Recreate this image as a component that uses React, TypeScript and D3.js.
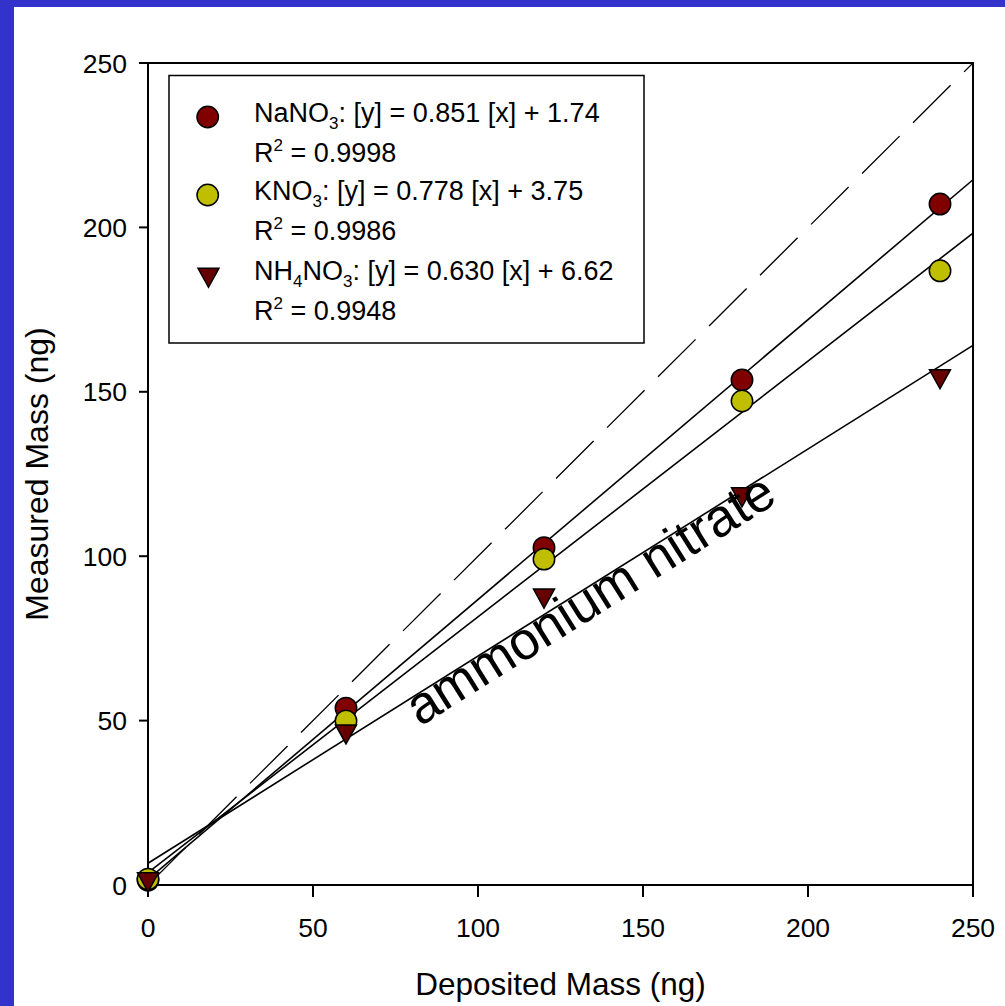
import React from "react";
import * as d3 from "d3";

const xValues = [0, 60, 120, 180, 240];
const nano3 = [1.5, 53.8, 102.6, 153.6, 207.1];
const kno3 = [1.8, 49.9, 99.1, 147.2, 186.8];
const nh4no3 = [0.8, 45.8, 87.1, 117.9, 153.8];
const fits = [
  { slope: 0.851, intercept: 1.74 },
  { slope: 0.778, intercept: 3.75 },
  { slope: 0.63, intercept: 6.62 },
];
const xTicks = [0, 50, 100, 150, 200, 250];
const yTicks = [0, 50, 100, 150, 200, 250];

const W = 1005;
const H = 1006;
const FONT = "'Liberation Sans', Arial, Helvetica, sans-serif";
const RED = "#800000";
const YELLOW = "#bfbf00";
const DARK = "#660000";

const tri = (cx: number, cy: number) =>
  `M${cx - 10.5},${cy - 9.5}L${cx + 10.5},${cy - 9.5}L${cx},${cy + 9.5}Z`;

export default function App() {
  const x = d3.scaleLinear().domain([0, 250]).range([148, 973]);
  const y = d3.scaleLinear().domain([0, 250]).range([885, 63]);
  const line = d3
    .line<[number, number]>()
    .x((d) => x(d[0]))
    .y((d) => y(d[1]));

  const legendRows = [
    { name: ["NaNO", "3", ""], eq: ": [y] = 0.851 [x] + 1.74", r2: "0.9998" },
    { name: ["KNO", "3", ""], eq: ": [y] = 0.778 [x] + 3.75", r2: "0.9986" },
    { name: ["NH", "4", "NO"], eq: ": [y] = 0.630 [x] + 6.62", r2: "0.9948" },
  ];
  const rowY = [121.7, 200, 280];

  const angle = (Math.atan2(y(0) - y(0.63 * 100), x(100) - x(0)) * 180) / Math.PI;
  const annX = x(82.4);
  const annY = y(48.05);

  return (
    <svg
      width={W}
      height={H}
      style={{ position: "absolute", left: 0, top: 0 }}
      fontFamily={FONT}
    >
      <rect x={0} y={0} width={W} height={H} fill="#3333cc" />
      <rect x={14} y={7} width={W - 14} height={H - 7} fill="#ffffff" />

      {/* 1:1 dashed line */}
      <path
        d={line([
          [0, 0],
          [250, 250],
        ]) || ""}
        fill="none"
        stroke="#000"
        strokeWidth={1.3}
        strokeDasharray="53,19"
      />
      {/* regression lines */}
      {fits.map((f, i) => (
        <path
          key={i}
          d={line([
            [0, f.intercept],
            [250, f.slope * 250 + f.intercept],
          ]) || ""}
          fill="none"
          stroke="#000"
          strokeWidth={1.6}
        />
      ))}

      {/* frame */}
      <rect
        x={x(0)}
        y={y(250)}
        width={x(250) - x(0)}
        height={y(0) - y(250)}
        fill="none"
        stroke="#000"
        strokeWidth={2}
      />
      {xTicks.map((t) => (
        <g key={"x" + t}>
          <line x1={x(t)} x2={x(t)} y1={y(0)} y2={y(0) + 12} stroke="#000" strokeWidth={2} />
          <text x={x(t)} y={937} fontSize={26.5} textAnchor="middle" fill="#000">
            {t}
          </text>
        </g>
      ))}
      {yTicks.map((t) => (
        <g key={"y" + t}>
          <line x1={x(0) - 9} x2={x(0)} y1={y(t)} y2={y(t)} stroke="#000" strokeWidth={2} />
          <text x={127} y={y(t) + 9.5} fontSize={26.5} textAnchor="end" fill="#000">
            {t}
          </text>
        </g>
      ))}

      {/* points */}
      {xValues.map((v, i) => (
        <circle key={"a" + i} cx={x(v)} cy={y(nano3[i])} r={10.7} fill={RED} stroke="#000" strokeWidth={1.5} />
      ))}
      {xValues.map((v, i) => (
        <circle key={"b" + i} cx={x(v)} cy={y(kno3[i])} r={10.7} fill={YELLOW} stroke="#000" strokeWidth={1.5} />
      ))}
      {xValues.map((v, i) => (
        <path key={"c" + i} d={tri(x(v), y(nh4no3[i]))} fill={DARK} stroke="#000" strokeWidth={1.5} strokeLinejoin="miter" />
      ))}

      {/* annotation */}
      <text
        x={annX}
        y={annY}
        fontSize={53}
        fill="#000"
        transform={`rotate(${-angle}, ${annX}, ${annY})`}
      >
        ammonium nitrate
      </text>

      {/* legend */}
      <rect x={169} y={75.5} width={475} height={267.5} fill="#fff" stroke="#000" strokeWidth={1.5} />
      <circle cx={207.7} cy={117} r={10.7} fill={RED} stroke="#000" strokeWidth={1.5} />
      <circle cx={207.7} cy={195} r={10.7} fill={YELLOW} stroke="#000" strokeWidth={1.5} />
      <path d={tri(208.5, 277.8)} fill={DARK} stroke="#000" strokeWidth={1.5} />
      {legendRows.map((r, i) => (
        <g key={"l" + i}>
          <text x={254} y={rowY[i]} fontSize={27} fill="#000">
            {i === 2 ? (
              <>
                <tspan>NH</tspan>
                <tspan fontSize={17} dy={7}>4</tspan>
                <tspan dy={-7}>NO</tspan>
                <tspan fontSize={17} dy={7}>3</tspan>
                <tspan dy={-7}>{r.eq}</tspan>
              </>
            ) : (
              <>
                <tspan>{r.name[0]}</tspan>
                <tspan fontSize={17} dy={7}>{r.name[1]}</tspan>
                <tspan dy={-7}>{r.eq}</tspan>
              </>
            )}
          </text>
          <text x={254} y={rowY[i] + 40} fontSize={27} fill="#000">
            <tspan>R</tspan>
            <tspan fontSize={17} dy={-11}>2</tspan>
            <tspan dy={11}>{" = " + r.r2}</tspan>
          </text>
        </g>
      ))}

      {/* axis titles */}
      <text x={(x(0) + x(250)) / 2} y={995} fontSize={31.5} textAnchor="middle" fill="#000">
        Deposited Mass (ng)
      </text>
      <text
        x={0}
        y={0}
        fontSize={32}
        textAnchor="middle"
        fill="#000"
        transform={`translate(48, ${(y(0) + y(250)) / 2}) rotate(-90)`}
      >
        Measured Mass (ng)
      </text>
    </svg>
  );
}
